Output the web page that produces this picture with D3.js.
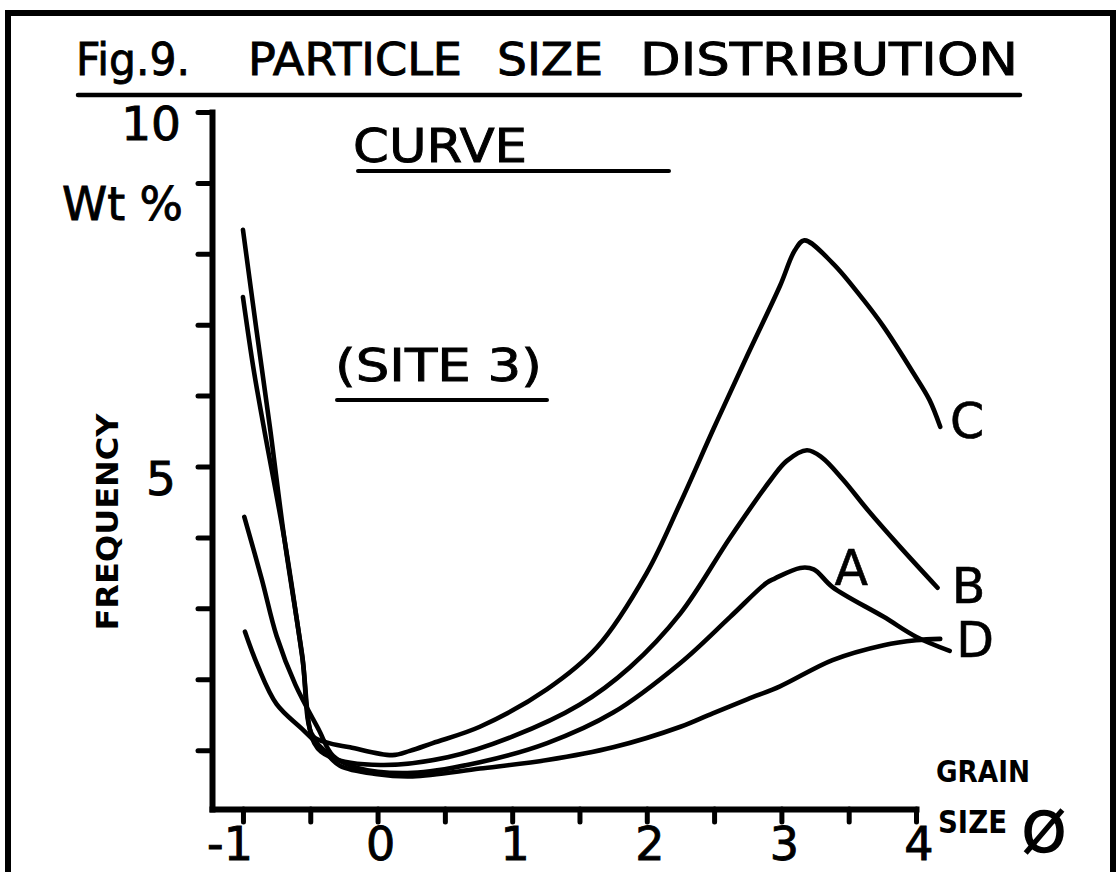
<!DOCTYPE html>
<html><head><meta charset="utf-8">
<script src="https://cdn.jsdelivr.net/npm/d3@7"></script>
<style>html,body{margin:0;padding:0;background:#fff;} svg{display:block;}</style>
</head><body>
<svg id="chart" width="1120" height="872"></svg>
<script>
// Grain size (phi) against frequency (weight %), one array per curve
const curveA = [[-0.99,4.29],[-0.86,3.41],[-0.75,2.61],[-0.61,1.92],[-0.44,1.30],[-0.33,0.92],[-0.15,0.75],[0.26,0.68],[0.76,0.83],[1.26,1.10],[1.75,1.53],[2.25,2.23],[2.62,2.88],[2.89,3.36],[2.95,3.42],[3.14,3.57],[3.24,3.55],[3.38,3.30],[3.76,2.88],[4.0,2.60],[4.25,2.40]];
const curveB = [[-1.0,7.39],[-0.92,6.36],[-0.84,5.50],[-0.69,3.95],[-0.56,2.32],[-0.47,1.10],[-0.35,0.90],[0.02,0.79],[0.52,0.90],[1.0,1.19],[1.5,1.64],[1.875,2.17],[2.25,2.93],[2.62,4.0],[2.92,4.81],[3.04,5.08],[3.19,5.23],[3.30,5.13],[3.46,4.81],[3.64,4.39],[3.88,3.87],[4.16,3.29]];
const curveC = [[-1.0,8.34],[-0.90,6.93],[-0.80,5.56],[-0.69,3.95],[-0.56,2.34],[-0.48,1.20],[-0.38,1.11],[-0.205,1.04],[0.11,0.93],[0.24,0.99],[0.41,1.10],[0.76,1.33],[1.26,1.86],[1.63,2.45],[2.0,3.50],[2.25,4.49],[2.5,5.55],[2.75,6.58],[2.99,7.55],[3.10,8.05],[3.17,8.19],[3.38,7.87],[3.61,7.35],[3.76,6.97],[3.98,6.32],[4.10,5.94],[4.18,5.56]];
const curveD = [[-0.985,2.67],[-0.89,2.19],[-0.75,1.65],[-0.55,1.28],[-0.41,1.02],[-0.28,0.78],[0.0,0.66],[0.26,0.63],[0.76,0.74],[1.26,0.86],[1.75,1.04],[2.25,1.33],[2.49,1.52],[2.75,1.72],[2.99,1.90],[3.38,2.27],[3.76,2.48],[4.0,2.55],[4.18,2.57]];
const curveNames = ["A", "B", "C", "D"];

const xTicks = [-1, -0.5, 0, 0.5, 1, 1.5, 2, 2.5, 3, 3.5, 4];
const xTickLabels = [-1, 0, 1, 2, 3, 4];
const yTicks = [1, 2, 3, 4, 5, 6, 7, 8, 9, 10];
const yTickLabels = [10, 5];

const titleWords = ["Fig.9.", "PARTICLE", "SIZE", "DISTRIBUTION"];

const FONT = "'DejaVu Sans', sans-serif";
const svg = d3.select("#chart");

const x = d3.scaleLinear().domain([-1.23, 4]).range([212, 916]);
const y = d3.scaleLinear().domain([0.17, 10]).range([809, 112]);

// lettering helper: slightly heavier than the plain font
function letter(sel, opts) {
  const t = sel.append("text").attr("font-family", FONT).attr("fill", "#000");
  if (!opts.bold) t.attr("stroke", "#000").attr("stroke-width", opts.sw || 0.9);
  else t.attr("font-weight", "bold");
  Object.entries(opts.attrs || {}).forEach(([k, v]) => t.attr(k, v));
  if (opts.len) t.attr("textLength", opts.len).attr("lengthAdjust", "spacingAndGlyphs");
  return t.text(opts.text);
}

// outer frame
svg.append("rect").attr("x", 8).attr("y", 13).attr("width", 1105).attr("height", 862)
  .attr("fill", "none").attr("stroke", "#000").attr("stroke-width", 6);

// title, word by word, with underline
const titleSpans = [[76, 114], [248, 214], [497, 106], [640, 378]];
titleWords.forEach((w, i) => letter(svg, {text: w, len: titleSpans[i][1],
  attrs: {x: titleSpans[i][0], y: 75, "font-size": 44}}));
svg.append("line").attr("x1", 78).attr("x2", 1020).attr("y1", 95).attr("y2", 95)
  .attr("stroke", "#000").attr("stroke-width", 4.5).attr("stroke-linecap", "round");

// axes
const gy = svg.append("g").attr("transform", `translate(${x.range()[0]},0)`)
  .call(d3.axisLeft(y).tickValues(yTicks).tickSize(14).tickSizeOuter(0).tickFormat(""));
const gx = svg.append("g").attr("transform", `translate(0,${y.range()[0]})`)
  .call(d3.axisBottom(x).tickValues(xTicks).tickSize(13).tickSizeOuter(0).tickFormat(""));
[gy, gx].forEach(g => {
  g.select(".domain").attr("stroke", "#000").attr("stroke-width", 6).attr("stroke-linecap", "square");
  g.selectAll(".tick line").attr("stroke", "#000").attr("stroke-width", 5).attr("stroke-linecap", "round");
});

// tick labels
svg.selectAll(".ylab").data(yTickLabels).join("text").attr("class", "ylab")
  .attr("x", d => d === 10 ? 181 : 176).attr("y", d => y(d) + 28)
  .attr("text-anchor", "end").attr("font-family", FONT).attr("font-size", 47)
  .attr("stroke", "#000").attr("stroke-width", 0.9)
  .text(d => String(d));
svg.selectAll(".xlab").data(xTickLabels).join("text").attr("class", "xlab")
  .attr("x", d => d < 0 ? x(d) + 10 : x(d) + 3).attr("y", 860)
  .attr("text-anchor", d => d < 0 ? "end" : "middle")
  .attr("font-family", FONT).attr("font-size", 46)
  .attr("stroke", "#000").attr("stroke-width", 0.9)
  .text(d => String(d));

// axis titles
letter(svg, {text: "Wt %", len: 121, attrs: {x: 62, y: 220, "font-size": 46}});
letter(svg, {text: "FREQUENCY", bold: true, len: 217,
  attrs: {transform: "translate(118,522) rotate(-90)", "text-anchor": "middle", "font-size": 31}});
letter(svg, {text: "GRAIN", bold: true, len: 94, attrs: {x: 936, y: 782, "font-size": 30}});
letter(svg, {text: "SIZE", bold: true, len: 69, attrs: {x: 938, y: 833, "font-size": 32}});
letter(svg, {text: "Ø", sw: 1.6, attrs: {x: 1044, y: 851, "text-anchor": "middle", "font-size": 56}});

// key headings
letter(svg, {text: "CURVE", len: 174, attrs: {x: 353, y: 162, "font-size": 47}});
svg.append("line").attr("x1", 358).attr("x2", 669).attr("y1", 171).attr("y2", 171)
  .attr("stroke", "#000").attr("stroke-width", 4).attr("stroke-linecap", "round");
letter(svg, {text: "(SITE 3)", len: 207, attrs: {x: 335, y: 381, "font-size": 45}});
svg.append("line").attr("x1", 337).attr("x2", 547).attr("y1", 400).attr("y2", 400)
  .attr("stroke", "#000").attr("stroke-width", 4).attr("stroke-linecap", "round");

// curves
const series = [curveA, curveB, curveC, curveD];
const line = d3.line().x(d => x(d[0])).y(d => y(d[1])).curve(d3.curveCatmullRom.alpha(0.5));
svg.selectAll(".curve").data(series).join("path").attr("class", "curve")
  .attr("d", line).attr("fill", "none").attr("stroke", "#000")
  .attr("stroke-width", 4.6).attr("stroke-linejoin", "round").attr("stroke-linecap", "round");

// curve letters: A beside its fine-sand peak, the others past the curve ends
const labelPos = series.map((s, i) => {
  if (i === 0) {
    const pk = s.filter(d => d[0] > 2).reduce((a, b) => (b[1] > a[1] ? b : a));
    return [x(pk[0]) + 51, y(pk[1]) + 17];
  }
  const e = s[s.length - 1];
  const dx = [0, 31, 27, 35][i], dy = [0, 15, 11, 18][i];
  return [x(e[0]) + dx, y(e[1]) + dy];
});
svg.selectAll(".clab").data(curveNames).join("text").attr("class", "clab")
  .attr("x", (d, i) => labelPos[i][0]).attr("y", (d, i) => labelPos[i][1])
  .attr("text-anchor", "middle").attr("font-family", FONT).attr("font-size", 49)
  .attr("stroke", "#000").attr("stroke-width", 0.6)
  .text(d => d);
</script>
</body></html>
